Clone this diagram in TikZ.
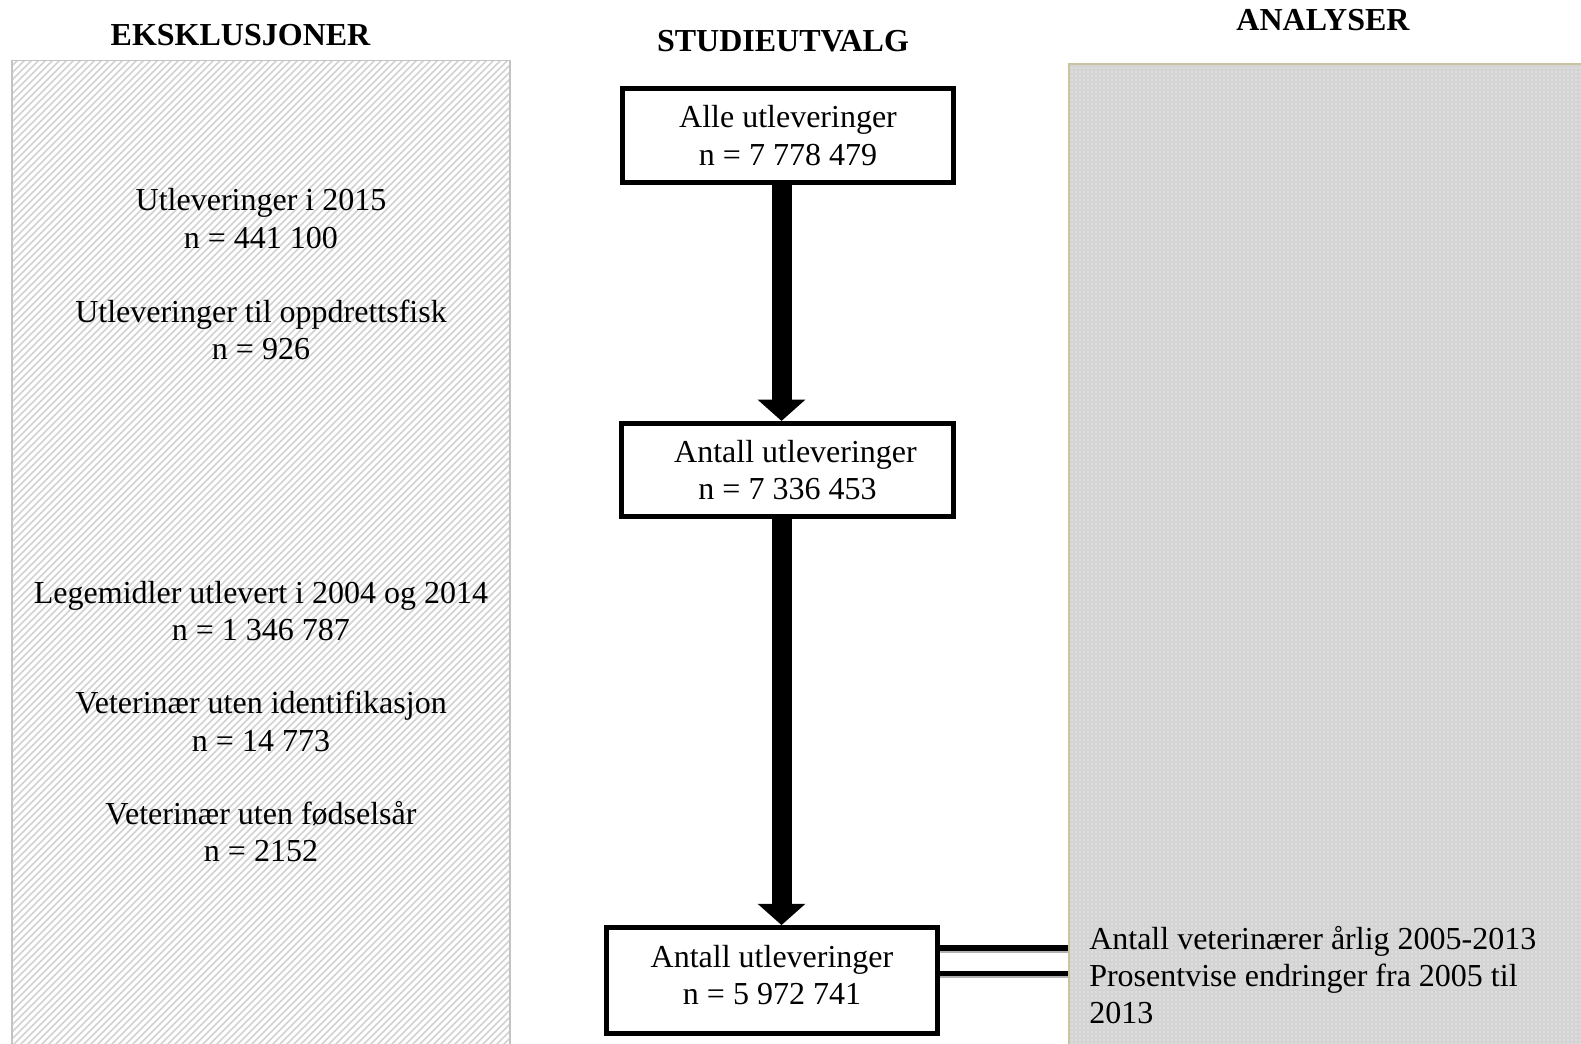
\documentclass[tikz,border=0pt]{standalone}
\usepackage{fontspec}
\setmainfont{Liberation Serif}
\usetikzlibrary{arrows.meta,patterns,fit}
\pgfdeclarepatternformonly{widehatch}{\pgfqpoint{-1pt}{-1pt}}{\pgfqpoint{6.25pt}{6.25pt}}{\pgfqpoint{5.25pt}{5.25pt}}%
{\pgfsetlinewidth{1.1pt}\pgfpathmoveto{\pgfqpoint{0pt}{0pt}}\pgfpathlineto{\pgfqpoint{5.35pt}{5.35pt}}\pgfusepath{stroke}}
\definecolor{hatchgray}{RGB}{210,210,210}
\definecolor{panelborder}{RGB}{195,195,195}
\definecolor{tanborder}{RGB}{200,196,160}
\definecolor{dotgray}{RGB}{212,212,212}
\begin{document}
\begin{tikzpicture}[x=0.75pt,y=-0.75pt,
  txt/.style={font=\fontsize{24}{28}\selectfont, align=center, inner sep=0pt},
  hdr/.style={font=\fontsize{24}{28}\selectfont\bfseries, inner sep=0pt},
  stepbox/.style={draw, line width=3.6pt, fill=white, align=center, font=\fontsize{24}{28}\selectfont, inner sep=0pt},
  bigarrow/.style={line width=15pt, -{Triangle[width=35pt,length=16pt]}},
  link/.style={line width=3.8pt},
  linkshadow/.style={line width=3.8pt, draw=black!30}]
\useasboundingbox (0,0) rectangle (1581,1044);

% panels
\node[fit={(12,60.5) (510,1060)}, inner sep=0pt, draw=panelborder, line width=1.2pt,
      pattern=widehatch, pattern color=hatchgray] (excl) {};
\node[fit={(1069,64) (1600,1060)}, inner sep=0pt, draw=tanborder, line width=2pt,
      preaction={fill=dotgray}, pattern=dots, pattern color=white] (rp) {};

% headers
\node[hdr] (h1) at (240.5,35.3) {EKSKLUSJONER};
\node[hdr] (h2) at (783,41.3) {STUDIEUTVALG};
\node[hdr] (h3) at (1323,20) {ANALYSER};

% exclusion texts
\node[txt] (e1) at (261,218.5) {Utleveringer i 2015\\n = 441 100};
\node[txt] (e2) at (261,330) {Utleveringer til oppdrettsfisk\\n = 926};
\node[txt] (e3) at (261,611) {Legemidler utlevert i 2004 og 2014\\n = 1 346 787};
\node[txt] (e4) at (261,721.5) {Veterinær uten identifikasjon\\n = 14 773};
\node[txt] (e5) at (261,831.5) {Veterinær uten fødselsår\\n = 2152};

% study boxes
\node[stepbox, minimum width=248pt, minimum height=70.5pt] (b1) at (788,135.5)
  {Alle utleveringer\\n = 7 778 479};
\node[stepbox, minimum width=249pt, minimum height=70pt] (b2) at (787.5,470)
  {\hspace*{12pt}Antall utleveringer\\n = 7 336 453};
\node[stepbox, minimum width=248pt, minimum height=79.5pt] (b3) at (772,980.5) {};
\node[txt] (b3t) at (772,975) {Antall utleveringer\\n = 5 972 741};

% arrows
\coordinate (ax) at (781.5,0);
\draw[bigarrow] (b1.south -| ax) -- (b2.north -| ax);
\draw[bigarrow] (b2.south -| ax) -- (b3.north -| ax);

% links to analyses
\draw[linkshadow] ([yshift=22.4pt]b3.east) -- ([yshift=22.4pt]b3.east -| rp.west);
\draw[linkshadow] ([yshift=3.6pt]b3.east) -- ([yshift=3.6pt]b3.east -| rp.west);
\draw[link] ([yshift=24.4pt]b3.east) -- ([yshift=24.4pt]b3.east -| rp.west);
\draw[link] ([yshift=5.6pt]b3.east) -- ([yshift=5.6pt]b3.east -| rp.west);

% analyses text
\node[txt, align=left, anchor=west] (a1) at (1089,975)
  {Antall veterinærer årlig 2005-2013\\Prosentvise endringer fra 2005 til\\2013};
\end{tikzpicture}
\end{document}
